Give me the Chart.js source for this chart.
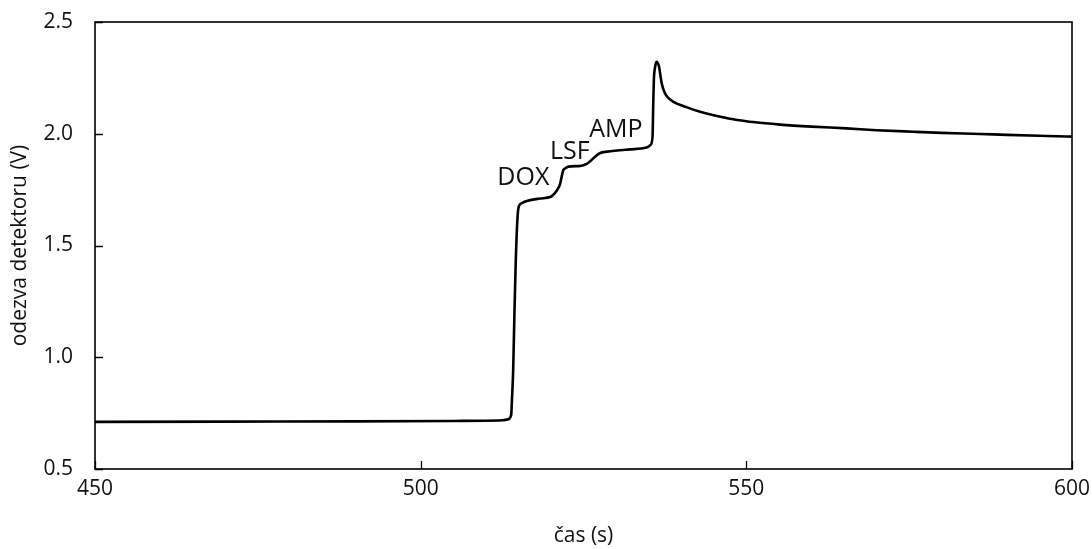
<!DOCTYPE html>
<html>
<head>
<meta charset="utf-8">
<script src="https://cdn.jsdelivr.net/npm/chart.js@4.4.1/dist/chart.umd.min.js"></script>
<style>
  html, body { margin: 0; padding: 0; background: #fff; }
  #c { display: block; }
</style>
</head>
<body>
<canvas id="c" width="1092" height="549"></canvas>
<script>
// ---- data ----
const times = [450, 470, 490, 505, 510, 512.5, 513.4, 513.9, 514.0, 514.2, 514.4, 514.6, 514.9, 515.1, 515.5, 516.3, 518.3, 520.0, 520.6, 521.1, 521.4, 521.7, 521.9, 522.2, 522.7, 524.5, 525.5, 526.0, 526.5, 527.0, 527.5, 528.6, 532.1, 534.7, 535.3, 535.6, 535.7, 535.8, 536.0, 536.2, 536.6, 536.8, 537.0, 537.5, 538.1, 538.8, 540.8, 542.9, 545.0, 547.5, 550.0, 552.5, 555.2, 560.0, 565.4, 570.0, 575.6, 580.0, 585.9, 590.0, 596.1, 600];
const response = [0.711, 0.712, 0.713, 0.715, 0.716, 0.718, 0.722, 0.742, 0.80, 0.94, 1.20, 1.43, 1.64, 1.677, 1.689, 1.699, 1.710, 1.718, 1.734, 1.756, 1.775, 1.815, 1.838, 1.845, 1.853, 1.856, 1.865, 1.876, 1.890, 1.903, 1.913, 1.920, 1.930, 1.938, 1.950, 1.987, 2.121, 2.240, 2.299, 2.322, 2.300, 2.263, 2.226, 2.181, 2.158, 2.143, 2.119, 2.098, 2.083, 2.067, 2.056, 2.048, 2.041, 2.032, 2.024, 2.016, 2.009, 2.004, 1.999, 1.995, 1.990, 1.987];

const xTicks = [450, 500, 550, 600];
const yTicks = [0.5, 1.0, 1.5, 2.0, 2.5];

const labelTexts = ['DOX', 'LSF', 'AMP'];
const labelX = [511.77, 519.86, 525.89];
const labelY = [1.771, 1.887, 1.987];

const FONT = '"Open Sans", "DejaVu Sans", sans-serif';
const TXT = '#111';

const framePlugin = {
  id: 'frameAndTicks',
  afterDraw(chart) {
    const { ctx, chartArea: a, scales } = chart;
    ctx.save();
    ctx.strokeStyle = '#000';
    ctx.lineWidth = 1.6;
    ctx.strokeRect(a.left, a.top, a.right - a.left, a.bottom - a.top);
    ctx.beginPath();
    xTicks.forEach(v => {
      const px = Math.round(scales.x.getPixelForValue(v)) + 0.5;
      ctx.moveTo(px, a.bottom);
      ctx.lineTo(px, a.bottom - 8);
    });
    yTicks.forEach(v => {
      const py = Math.round(scales.y.getPixelForValue(v)) + 0.5;
      ctx.moveTo(a.left, py);
      ctx.lineTo(a.left + 8, py);
    });
    ctx.lineWidth = 1.3;
    ctx.stroke();
    // annotations
    ctx.fillStyle = TXT;
    ctx.font = '25px ' + FONT;
    ctx.textAlign = 'left';
    ctx.textBaseline = 'alphabetic';
    labelTexts.forEach((t, i) => {
      ctx.fillText(t, scales.x.getPixelForValue(labelX[i]), scales.y.getPixelForValue(labelY[i]));
    });
    ctx.restore();
  }
};

new Chart(document.getElementById('c'), {
  type: 'line',
  data: {
    datasets: [{
      data: times.map((t, i) => ({ x: t, y: response[i] })),
      borderColor: '#000',
      borderWidth: 2.6,
      pointRadius: 0,
      fill: false,
      cubicInterpolationMode: 'monotone'
    }]
  },
  options: {
    responsive: false,
    animation: false,
    devicePixelRatio: 1,
    layout: { padding: { top: 22, right: 20, left: 0, bottom: 0 } },
    plugins: { legend: { display: false }, tooltip: { enabled: false } },
    scales: {
      x: {
        type: 'linear',
        min: 450, max: 600,
        afterBuildTicks(s) { s.ticks = xTicks.map(v => ({ value: v })); },
        afterFit(s) { s.height = 80; s.paddingLeft = 0; s.paddingRight = 0; },
        grid: { display: false, drawTicks: false },
        border: { display: false },
        ticks: { color: TXT, font: { family: FONT, size: 21 }, padding: 7, maxRotation: 0, autoSkip: false },
        title: { display: true, text: 'čas (s)', color: TXT, font: { family: FONT, size: 21 }, padding: { top: 0, bottom: 0 } }
      },
      y: {
        min: 0.5, max: 2.5,
        afterBuildTicks(s) { s.ticks = yTicks.map(v => ({ value: v })); },
        afterFit(s) { s.width = 95; s.paddingTop = 0; s.paddingBottom = 0; },
        grid: { display: false, drawTicks: false },
        border: { display: false },
        ticks: { color: TXT, font: { family: FONT, size: 21 }, padding: 22, callback: v => Number(v).toFixed(1) },
        title: { display: true, text: 'odezva detektoru (V)', color: TXT, font: { family: FONT, size: 21 }, padding: { top: 7, bottom: 0 } }
      }
    }
  },
  plugins: [framePlugin]
});
</script>
</body>
</html>
